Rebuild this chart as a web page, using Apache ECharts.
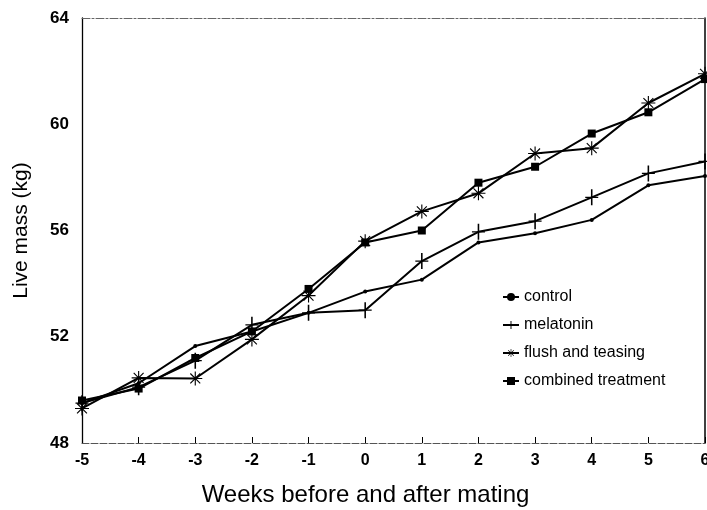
<!DOCTYPE html>
<html>
<head>
<meta charset="utf-8">
<script src="https://cdn.jsdelivr.net/npm/echarts@6/dist/echarts.min.js"></script>
<style>html,body{margin:0;padding:0;background:#fff}#c{width:707px;height:510px}</style>
</head>
<body>
<div id="c"></div>
<script>
var weeks = [-5, -4, -3, -2, -1, 0, 1, 2, 3, 4, 5, 6];
var control = [49.5, 50.25, 51.65, 52.2, 52.9, 53.7, 54.15, 55.55, 55.9, 56.4, 57.7, 58.05];
var melatonin = [49.5, 50.1, 51.1, 52.45, 52.9, 53.0, 54.85, 55.95, 56.35, 57.25, 58.15, 58.6];
var flush = [49.3, 50.45, 50.43, 51.9, 53.55, 55.6, 56.72, 57.4, 58.9, 59.1, 60.8, 61.9];
var combined = [49.6, 50.05, 51.2, 52.2, 53.8, 55.55, 56.0, 57.8, 58.4, 59.65, 60.45, 61.7];
var seriesNames = ['control', 'melatonin', 'flush and teasing', 'combined treatment'];
var yTicks = [48, 52, 56, 60, 64];

function pairs(arr) { return weeks.map(function (w, i) { return [w, arr[i]]; }); }

var plusPath = 'path://M-0.12,-1 L0.12,-1 L0.12,-0.08 L1,-0.08 L1,0.08 L0.12,0.08 L0.12,1 L-0.12,1 L-0.12,0.08 L-1,0.08 L-1,-0.08 L-0.12,-0.08 Z';
var starPath = 'path://M-1,-0.08 L1,-0.08 L1,0.08 L-1,0.08 Z ' +
  'M-0.08,-1 L0.08,-1 L0.08,1 L-0.08,1 Z ' +
  'M-0.764,-0.65 L-0.65,-0.764 L0.764,0.65 L0.65,0.764 Z ' +
  'M-0.65,0.764 L-0.764,0.65 L0.65,-0.764 L0.764,-0.65 Z';

var font = '"Liberation Sans", Arial, Helvetica, sans-serif';
function mk(name, data, symbol, size) {
  return {
    name: name, type: 'line', data: pairs(data),
    symbol: symbol, symbolSize: size, showSymbol: true,
    lineStyle: { color: '#000', width: 2 },
    itemStyle: { color: '#000', borderColor: '#000', borderWidth: 0 },
    z: 3
  };
}

var chart = echarts.init(document.getElementById('c'), null, { renderer: 'canvas' });
chart.setOption({
  animation: false,
  backgroundColor: '#fff',
  grid: { left: 82, right: 2, top: 18, bottom: 67, containLabel: false, outerBoundsMode: 'none' },
  legend: {
    orient: 'vertical', left: 497, top: 284,
    itemWidth: 16, itemHeight: 10, itemGap: 12,
    textStyle: { fontFamily: font, fontSize: 16, color: '#000' },
    data: seriesNames
  },
  xAxis: [{
    type: 'value', min: -5, max: 6, interval: 1,
    name: 'Weeks before and after mating', nameLocation: 'middle', nameGap: 40,
    nameTextStyle: { fontFamily: font, fontSize: 24, color: '#000', padding: [0, 56, 0, 0] },
    axisLine: { onZero: false, lineStyle: { color: '#555', width: 1, type: [7, 2] } },
    axisTick: { inside: true, length: 6, lineStyle: { color: '#000', width: 1 } },
    axisLabel: { fontFamily: font, fontSize: 16, fontWeight: 'bold', color: '#000', margin: 10 },
    splitLine: { show: false }
  }, {
    type: 'value', position: 'top', min: -5, max: 6, interval: 1,
    axisLine: { show: true, onZero: false, lineStyle: { color: '#666', width: 1, type: [8, 2, 2, 2] } },
    axisTick: { show: false }, axisLabel: { show: false }, splitLine: { show: false }
  }],
  yAxis: [{
    type: 'value', min: 48, max: 64, interval: 4,
    name: 'Live mass (kg)', nameLocation: 'middle', nameGap: 50,
    nameTextStyle: { fontFamily: font, fontSize: 21, color: '#000' },
    axisLine: { show: true, onZero: false, lineStyle: { color: '#000', width: 1.3 } },
    axisTick: { show: false },
    axisLabel: { fontFamily: font, fontSize: 17, fontWeight: 'bold', color: '#000', margin: 13,
      formatter: function (v) { return yTicks.indexOf(v) >= 0 ? String(v) : ''; } },
    splitLine: { show: false }
  }, {
    type: 'value', position: 'right', min: 48, max: 64, interval: 4,
    axisLine: { show: true, onZero: false, lineStyle: { color: '#000', width: 1.5 } },
    axisTick: { show: false }, axisLabel: { show: false }, splitLine: { show: false }
  }],
  series: [
    mk(seriesNames[0], control, 'circle', 4),
    mk(seriesNames[1], melatonin, plusPath, [13, 16]),
    mk(seriesNames[2], flush, starPath, 14),
    mk(seriesNames[3], combined, 'rect', 8)
  ]
});
</script>
</body>
</html>
